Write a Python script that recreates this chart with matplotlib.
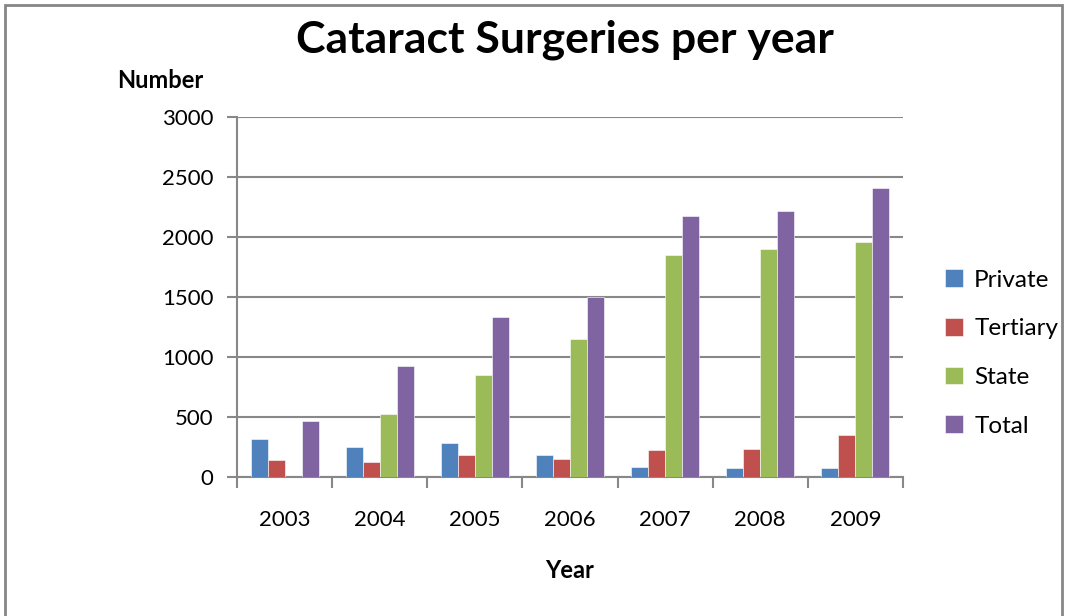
import matplotlib
matplotlib.use("Agg")
import matplotlib.pyplot as plt
from matplotlib.patches import Rectangle
import numpy as np

years = ["2003", "2004", "2005", "2006", "2007", "2008", "2009"]
private = [315, 250, 281, 181, 86, 72, 75]
tertiary = [140, 126, 181, 147, 225, 233, 347]
state = [0, 528, 850, 1150, 1847, 1897, 1961]
total = [463, 925, 1333, 1497, 2175, 2219, 2406]
series_names = ["Private", "Tertiary", "State", "Total"]
colors = ["#4F81BD", "#C0504D", "#9BBB59", "#8064A2"]

plt.rcParams['font.family'] = ['Lato', 'DejaVu Sans']

W, H = 1070, 616
fig = plt.figure(figsize=(W/100, H/100), dpi=100)
fig.patches.append(Rectangle((5/W, -0.05), (1062-5)/W, 1.05 - 5/H, transform=fig.transFigure,
                             fill=False, edgecolor="#868686", linewidth=2))

ax = fig.add_axes([237/W, 1-477/H, (903-237)/W, (477-117)/H])
x = np.arange(len(years))
bw = 0.179
data = [private, tertiary, state, total]
for i, (vals, c, name) in enumerate(zip(data, colors, series_names)):
    ax.bar(x + (i - 1.5) * bw, vals, width=bw, color=c, label=name,
           edgecolor="white", linewidth=0.4, zorder=3)

ax.set_xlim(-0.5, len(years) - 0.5)
ax.set_ylim(0, 3000)
ax.set_yticks(range(0, 3001, 500))
ax.yaxis.grid(True, color="#888888", linewidth=1.5, zorder=0)
ax.set_axisbelow(True)
for s in ["top", "right"]:
    ax.spines[s].set_visible(False)
for s in ["left", "bottom"]:
    ax.spines[s].set_color("#888888")
    ax.spines[s].set_linewidth(1.5)

ax.set_xticks(np.arange(-0.5, len(years), 1.0))
ax.set_xticklabels([])
ax.set_xticks(x, minor=True)
ax.set_xticklabels(years, minor=True, fontsize=16)
ax.tick_params(axis="x", which="major", length=8, color="#888888", width=1.5, direction="out")
ax.tick_params(axis="x", which="minor", length=0, pad=24)
ax.tick_params(axis="y", length=7, color="#888888", width=1.5, labelsize=16, pad=10)

fig.text(565/W, 1-40/H, "Cataract Surgeries per year", ha="center", va="center",
         fontsize=32, fontweight="bold")
fig.text(160/W, 1-80/H, "Number", ha="center", va="center", fontsize=17, fontweight="bold")
fig.text(570/W, 1-571/H, "Year", ha="center", va="center", fontsize=17, fontweight="bold")

handles, labels = ax.get_legend_handles_labels()
leg = fig.legend(handles, labels, loc="center left", bbox_to_anchor=(945/W, 1-353/H),
                 frameon=False, fontsize=17.5, handlelength=0.75, handleheight=0.75,
                 labelspacing=1.12, handletextpad=0.45, borderpad=0, borderaxespad=0)

fig.savefig("out.png", dpi=100)
